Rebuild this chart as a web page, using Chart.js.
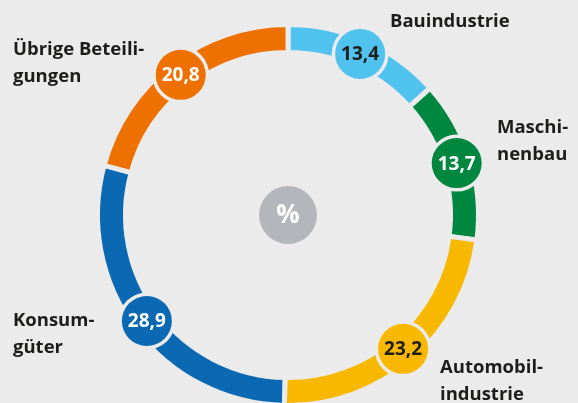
<!DOCTYPE html>
<html><head><meta charset="utf-8">
<script src="https://cdn.jsdelivr.net/npm/chart.js@4/dist/chart.umd.min.js"></script>
<style>
html,body{margin:0;padding:0;background:#ebebec;}
#wrap{width:578px;height:403px;overflow:hidden;position:relative;}
canvas{display:block;}
</style></head>
<body><div id="wrap"><canvas id="c" width="578" height="430"></canvas></div>
<script>
const categories = ['Bauindustrie', 'Maschinenbau', 'Automobilindustrie', 'Konsumgüter', 'Übrige Beteiligungen'];
const values = [13.4, 13.7, 23.2, 28.9, 20.8];
const valueLabels = ['13,4', '13,7', '23,2', '28,9', '20,8'];
const labelLines = [['Bauindustrie'], ['Maschi-', 'nenbau'], ['Automobil-', 'industrie'], ['Konsum-', 'güter'], ['Übrige Beteili-', 'gungen']];
const colors = ['#4fc3ee', '#00873f', '#f8b800', '#0b69b3', '#ee7100'];
const valueTextColors = ['#1d1d1b', '#ffffff', '#1d1d1b', '#ffffff', '#ffffff'];
const labelPos = [[390, 27], [497, 133], [440, 373], [13, 326], [13, 55]];
const BG = '#ebebec';

const overlay = {
  id: 'overlay',
  afterDatasetsDraw(chart) {
    const ctx = chart.ctx;
    const meta = chart.getDatasetMeta(0);
    meta.data.forEach((arc, i) => {
      const p = arc.getProps(['x', 'y', 'startAngle', 'endAngle', 'innerRadius', 'outerRadius'], true);
      const a = (p.startAngle + p.endAngle) / 2;
      const r = (p.innerRadius + p.outerRadius) / 2;
      const cx = p.x + Math.cos(a) * r, cy = p.y + Math.sin(a) * r;
      ctx.save();
      ctx.beginPath(); ctx.arc(cx, cy, 28.5, 0, Math.PI * 2); ctx.fillStyle = BG; ctx.fill();
      ctx.beginPath(); ctx.arc(cx, cy, 25, 0, Math.PI * 2); ctx.fillStyle = colors[i]; ctx.fill();
      ctx.fillStyle = valueTextColors[i];
      ctx.font = 'bold 19px "Open Sans"';
      ctx.textAlign = 'center'; ctx.textBaseline = 'middle';
      ctx.fillText(valueLabels[i], cx, cy + 1);
      ctx.restore();
    });
    const c = meta.data[0];
    ctx.save();
    ctx.beginPath(); ctx.arc(c.x, c.y, 29, 0, Math.PI * 2); ctx.fillStyle = '#b3b6ba'; ctx.fill();
    ctx.fillStyle = '#ffffff'; ctx.font = 'bold 26px "Open Sans"';
    ctx.textAlign = 'center'; ctx.textBaseline = 'middle';
    ctx.fillText('%', c.x, c.y + 1);
    ctx.fillStyle = '#1d1d1b'; ctx.font = 'bold 18.5px "Open Sans"';
    ctx.textAlign = 'left'; ctx.textBaseline = 'alphabetic';
    labelLines.forEach((lines, i) => {
      lines.forEach((t, j) => ctx.fillText(t, labelPos[i][0], labelPos[i][1] + j * 27));
    });
    ctx.restore();
  }
};

new Chart(document.getElementById('c'), {
  type: 'doughnut',
  data: { labels: categories, datasets: [{ data: values, backgroundColor: colors, borderColor: BG, borderWidth: 5, borderJoinStyle: 'miter', borderAlign: 'center' }] },
  options: {
    responsive: false, animation: false, devicePixelRatio: 1,
    radius: 190.5, cutout: '85.3%',
    layout: { padding: { right: 2 } },
    plugins: { legend: { display: false }, tooltip: { enabled: false } },
    events: []
  },
  plugins: [overlay]
});
</script></body></html>
